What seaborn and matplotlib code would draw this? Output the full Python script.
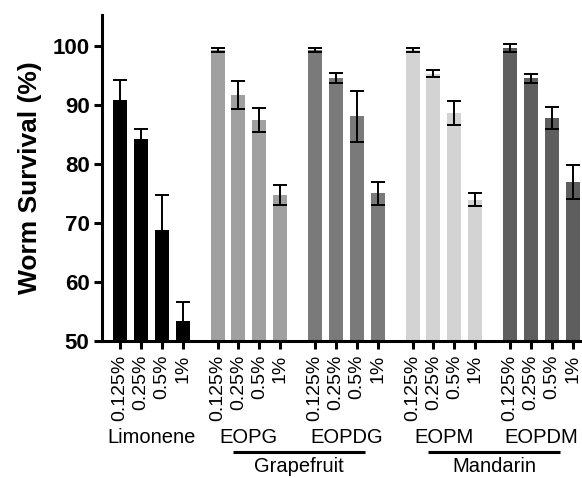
import numpy as np
import pandas as pd
import matplotlib
matplotlib.use("Agg")
import matplotlib.pyplot as plt
import seaborn as sns

# ---- data ----
groups = ["Limonene", "EOPG", "EOPDG", "EOPM", "EOPDM"]
concentrations = ["0.125%", "0.25%", "0.5%", "1%"]
limonene_mean = [90.8, 84.2, 68.8, 53.4]
limonene_err = [3.5, 1.7, 5.9, 3.2]
eopg_mean = [99.3, 91.7, 87.5, 74.7]
eopg_err = [0.3, 2.4, 2.0, 1.7]
eopdg_mean = [99.3, 94.6, 88.1, 75.0]
eopdg_err = [0.3, 0.9, 4.3, 2.0]
eopm_mean = [99.3, 95.3, 88.6, 73.9]
eopm_err = [0.3, 0.6, 2.0, 1.1]
eopdm_mean = [99.7, 94.5, 87.8, 77.0]
eopdm_err = [0.7, 0.8, 1.9, 2.9]
fruit_labels = ["Grapefruit", "Mandarin"]
group_colors = ["#000000", "#a0a0a0", "#7a7a7a", "#d3d3d3", "#5e5e5e"]

means = [limonene_mean, eopg_mean, eopdg_mean, eopm_mean, eopdm_mean]
errs = [limonene_err, eopg_err, eopdg_err, eopm_err, eopdm_err]

GROUP_STEP = 4.665
rows = []
for g, name in enumerate(groups):
    for i, c in enumerate(concentrations):
        rows.append({"pos": g * GROUP_STEP + i, "group": name, "conc": c,
                     "mean": means[g][i], "err": errs[g][i]})
df = pd.DataFrame(rows)

sns.set_style("ticks")
plt.rcParams["font.family"] = ["Liberation Sans", "DejaVu Sans"]
for key in ["text.color", "axes.labelcolor", "xtick.color", "ytick.color", "axes.edgecolor"]:
    plt.rcParams[key] = "black"

fig = plt.figure(figsize=(5.82, 4.78), dpi=100)
ax = fig.add_axes([102 / 582, 1 - 341 / 478, 1 - 102 / 582, (341 - 15) / 478])

sns.barplot(data=df, x="pos", y="mean", hue="group", native_scale=True,
            palette=dict(zip(groups, group_colors)), dodge=False,
            width=0.67, linewidth=0, errorbar=None, legend=False, ax=ax)
ax.errorbar(df["pos"], df["mean"], yerr=df["err"], fmt="none",
            ecolor="black", elinewidth=1.4, capsize=5, capthick=1.4, zorder=5)

ax.set_xlim(-0.861, 22.1)
ax.set_ylim(50, 105.25)
ax.set_yticks([50, 60, 70, 80, 90, 100])
ax.set_yticklabels(["50", "60", "70", "80", "90", "100"], fontsize=16, fontweight="bold")
ax.set_xticks(df["pos"])
ax.set_xticklabels(df["conc"], rotation=90, fontsize=14)
ax.tick_params(axis="both", length=6, width=2.2, color="black", labelcolor="black")
ax.tick_params(axis="x", pad=4)
ax.tick_params(axis="y", pad=3)
for s in ["left", "bottom"]:
    ax.spines[s].set_linewidth(2.2)
    ax.spines[s].set_color("black")
sns.despine(ax=ax)
ax.set_xlabel("")
ax.set_ylabel("Worm Survival (%)", fontsize=19, fontweight="bold", color="black")
ax.yaxis.set_label_coords(-0.125, 0.5)

trans = ax.get_xaxis_transform()
for g, name in enumerate(groups):
    cx = g * GROUP_STEP + 1.5
    ax.text(cx, -0.2975, name, transform=trans, ha="center", va="center",
            fontsize=14.5, color="black", clip_on=False)

for k, fruit in enumerate(fruit_labels):
    g1 = 1 + 2 * k
    x0 = g1 * GROUP_STEP + 0.72
    x1 = (g1 + 1) * GROUP_STEP + 2.4
    ax.plot([x0, x1], [-0.34, -0.34], transform=trans, color="black",
            lw=2.2, clip_on=False, solid_capstyle="butt")
    ax.text((x0 + x1) / 2, -0.386, fruit, transform=trans, ha="center",
            va="center", fontsize=14.5, color="black", clip_on=False)

fig.savefig("out.png", dpi=100)
